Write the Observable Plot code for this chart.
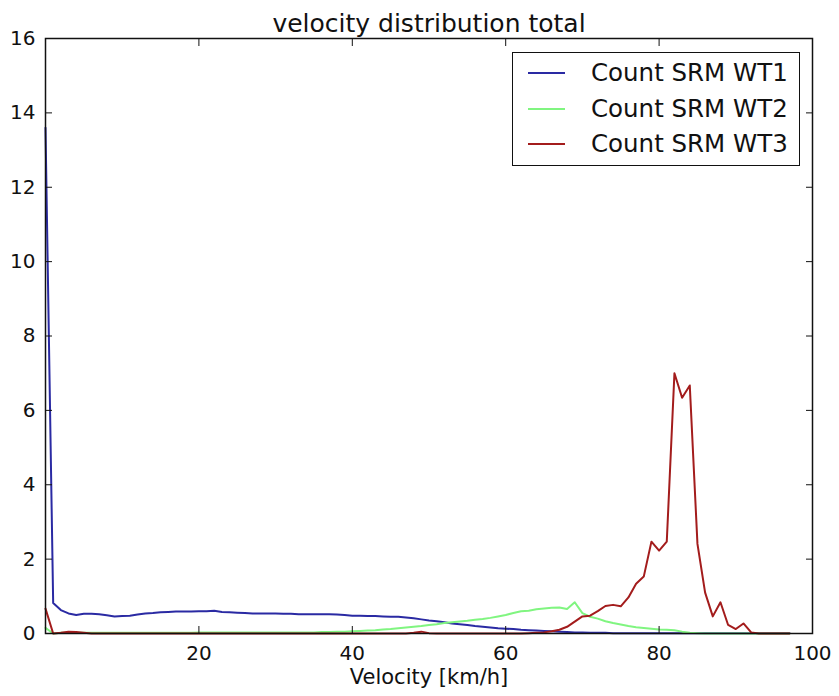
<!DOCTYPE html>
<html>
<head>
<meta charset="utf-8">
<script src="https://cdn.jsdelivr.net/npm/d3@7"></script>
<script src="https://cdn.jsdelivr.net/npm/@observablehq/plot@0.6"></script>
<style>
  html, body { margin: 0; padding: 0; background: #fff; }
  #wrap { position: relative; width: 839px; height: 696px; font-family: "DejaVu Sans", sans-serif; }
  #legend { position: absolute; left: 512px; top: 52px; width: 286px; height: 112px;
            border: 1.5px solid #111; background: #fff; box-sizing: content-box; }
  .row { position: absolute; left: 0; height: 30px; }
  .sw { position: absolute; left: 15px; width: 37px; height: 2px; }
  .lab { position: absolute; left: 78px; font-size: 24.5px; color: #111; white-space: nowrap; line-height: 30px; }
</style>
</head>
<body>
<div id="wrap"></div>
<script>
// ---- data ----
const title = "velocity distribution total";
const xLabel = "Velocity [km/h]";
const seriesNames = ["Count SRM WT1", "Count SRM WT2", "Count SRM WT3"];
const seriesColors = ["#2a2aa3", "#80f580", "#a31c1c"];
const xTicks = [20, 40, 60, 80, 100];
const yTicks = [0, 2, 4, 6, 8, 10, 12, 14, 16];

const velocity = Array.from({length: 98}, (_, i) => i); // bins 0..97 km/h

const wt1 = [13.6, 0.82, 0.63, 0.54, 0.50, 0.53, 0.53, 0.52, 0.49, 0.46,
             0.47, 0.48, 0.51, 0.54, 0.55, 0.57, 0.58, 0.59, 0.59, 0.59,
             0.60, 0.60, 0.61, 0.58, 0.57, 0.56, 0.55, 0.54, 0.54, 0.54,
             0.54, 0.53, 0.53, 0.52, 0.52, 0.52, 0.52, 0.52, 0.51, 0.50,
             0.48, 0.48, 0.47, 0.47, 0.46, 0.45, 0.45, 0.43, 0.41, 0.38,
             0.35, 0.33, 0.30, 0.27, 0.25, 0.23, 0.20, 0.18, 0.16, 0.14,
             0.13, 0.12, 0.10, 0.09, 0.08, 0.07, 0.06, 0.05, 0.04, 0.03,
             0.03, 0.02, 0.02, 0.02, 0.01, 0.01, 0.01, 0.01, 0.01, 0.01,
             0.01, 0.01, 0.01, 0.01, 0.01, 0.01, 0.01, 0.01, 0.01, 0.01,
             0.01, 0.01, 0.01, 0.01, 0.01, 0.01, 0.01, 0.01];

const wt2 = [0.15, 0.00, 0.02, 0.02, 0.02, 0.02, 0.02, 0.02, 0.02, 0.02,
             0.02, 0.02, 0.02, 0.02, 0.02, 0.02, 0.02, 0.02, 0.02, 0.02,
             0.03, 0.03, 0.03, 0.03, 0.03, 0.03, 0.03, 0.03, 0.03, 0.03,
             0.03, 0.03, 0.03, 0.03, 0.03, 0.03, 0.04, 0.04, 0.05, 0.05,
             0.06, 0.07, 0.08, 0.09, 0.11, 0.12, 0.14, 0.16, 0.18, 0.20,
             0.23, 0.25, 0.28, 0.30, 0.32, 0.34, 0.37, 0.39, 0.42, 0.46,
             0.50, 0.55, 0.60, 0.61, 0.65, 0.67, 0.69, 0.70, 0.66, 0.84,
             0.55, 0.45, 0.40, 0.33, 0.28, 0.24, 0.20, 0.17, 0.15, 0.13,
             0.11, 0.10, 0.09, 0.05, 0.02, 0.01, 0.00, 0.00, 0.00, 0.00,
             0.00, 0.00, 0.00, 0.00, 0.00, 0.00, 0.00, 0.00];

const wt3 = [0.67, 0.00, 0.02, 0.05, 0.04, 0.02, 0.00, 0.00, 0.00, 0.00,
             0.00, 0.00, 0.00, 0.00, 0.00, 0.00, 0.00, 0.00, 0.00, 0.00,
             0.00, 0.00, 0.00, 0.00, 0.00, 0.00, 0.00, 0.00, 0.00, 0.00,
             0.00, 0.00, 0.00, 0.00, 0.00, 0.00, 0.00, 0.00, 0.00, 0.00,
             0.00, 0.00, 0.00, 0.00, 0.00, 0.00, 0.00, 0.00, 0.02, 0.05,
             0.01, 0.00, 0.00, 0.00, 0.00, 0.00, 0.00, 0.00, 0.00, 0.00,
             0.00, 0.00, 0.00, 0.01, 0.02, 0.03, 0.06, 0.10, 0.18, 0.32,
             0.46, 0.48, 0.60, 0.74, 0.77, 0.73, 0.97, 1.34, 1.53, 2.47,
             2.23, 2.47, 7.00, 6.34, 6.67, 2.41, 1.10, 0.46, 0.84, 0.23,
             0.12, 0.27, 0.03, 0.00, 0.00, 0.00, 0.00, 0.00];

// ---- build tidy table ----
const seriesValues = [wt1, wt2, wt3];
const rows = [];
seriesNames.forEach((name, s) => {
  velocity.forEach((v, i) => rows.push({series: name, v, count: seriesValues[s][i]}));
});

const font = "DejaVu Sans";
const ink = "#111";

const chart = Plot.plot({
  width: 839,
  height: 696,
  marginLeft: 45,
  marginRight: 27,
  marginTop: 38,
  marginBottom: 63,
  style: {fontFamily: font, background: "#fff", color: ink},
  x: {domain: [0, 100]},
  y: {domain: [0, 16]},
  color: {domain: seriesNames, range: seriesColors},
  marks: [
    Plot.line(rows, {x: "v", y: "count", z: "series", stroke: "series", strokeWidth: 2}),
    // inward tick marks on all four sides
    Plot.axisX(xTicks, {anchor: "bottom", tickSize: -7, fill: "none", label: null, stroke: ink}),
    Plot.axisX(xTicks, {anchor: "top", tickSize: -7, fill: "none", label: null, stroke: ink}),
    Plot.axisY(yTicks, {anchor: "left", tickSize: -7, fill: "none", label: null, stroke: ink}),
    Plot.axisY(yTicks, {anchor: "right", tickSize: -7, fill: "none", label: null, stroke: ink}),
    // tick labels
    Plot.axisX(xTicks, {anchor: "bottom", tickSize: 0, tickPadding: 12, fontSize: 20, label: null, fill: ink}),
    Plot.axisY(yTicks, {anchor: "left", tickSize: 0, tickPadding: 10, fontSize: 20, label: null, fill: ink}),
    Plot.frame({stroke: ink, strokeWidth: 1.5}),
    Plot.text([title], {frameAnchor: "top", lineAnchor: "bottom", dy: -7, fontSize: 25, fill: ink}),
    Plot.text([xLabel], {frameAnchor: "bottom", lineAnchor: "top", dy: 36, fontSize: 21, fill: ink})
  ]
});

const wrap = document.getElementById("wrap");
wrap.appendChild(chart);

// legend overlay
const legend = document.createElement("div");
legend.id = "legend";
const rowTops = [5, 40.5, 76];
seriesNames.forEach((name, i) => {
  const r = document.createElement("div");
  r.className = "row";
  r.style.top = rowTops[i] + "px";
  r.style.width = "100%";
  const sw = document.createElement("div");
  sw.className = "sw";
  sw.style.background = seriesColors[i];
  sw.style.top = "14px";
  const lab = document.createElement("div");
  lab.className = "lab";
  lab.style.top = "0px";
  lab.textContent = name;
  r.appendChild(sw);
  r.appendChild(lab);
  legend.appendChild(r);
});
wrap.appendChild(legend);
</script>
</body>
</html>
